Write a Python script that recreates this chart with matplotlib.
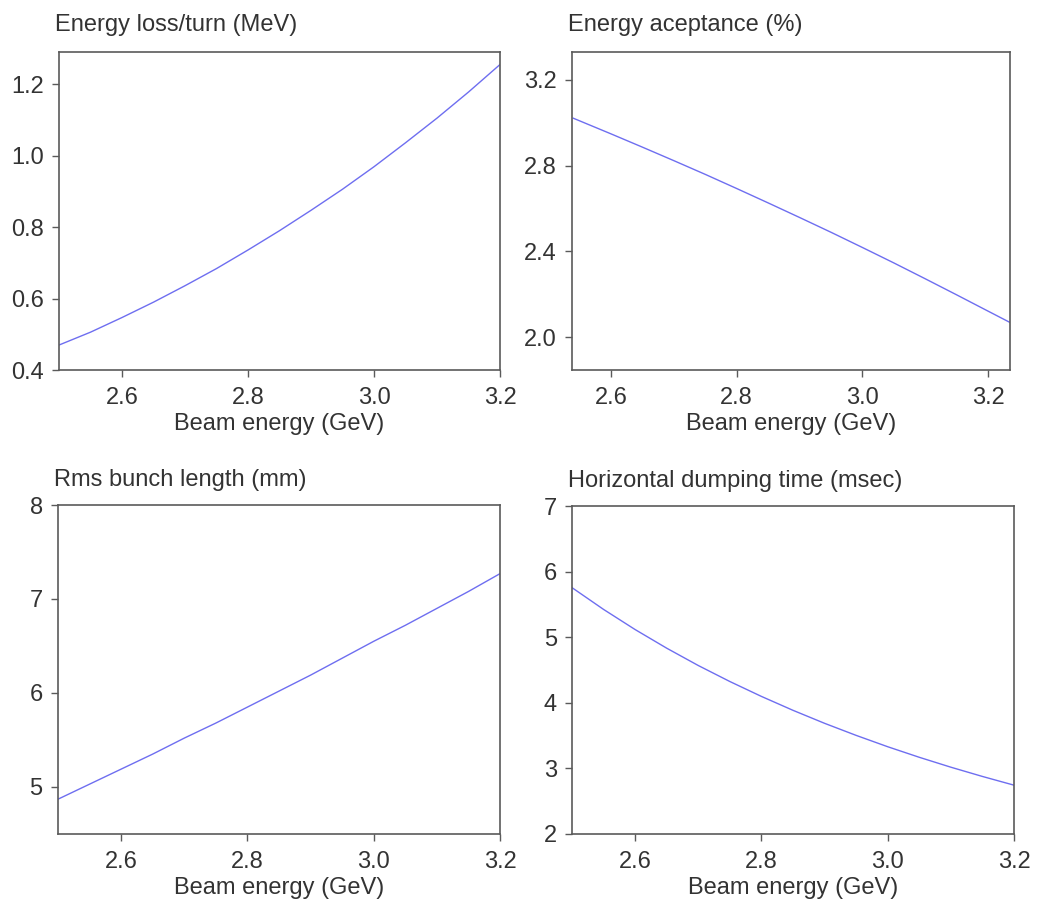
import matplotlib
matplotlib.use("Agg")
import matplotlib.pyplot as plt

plt.rcParams['font.family'] = ['Liberation Sans', 'DejaVu Sans']

# beam energy grid (GeV)
energy = [2.50, 2.55, 2.60, 2.65, 2.70, 2.75, 2.80, 2.85, 2.90, 2.95,
          3.00, 3.05, 3.10, 3.15, 3.20]
energy_acc = [2.54, 2.60, 2.65, 2.70, 2.75, 2.80, 2.85, 2.90, 2.95,
              3.00, 3.05, 3.10, 3.15, 3.20, 3.235]

# values
loss_per_turn = [0.470, 0.506, 0.547, 0.590, 0.636, 0.684, 0.736, 0.790,
                 0.847, 0.906, 0.969, 1.036, 1.105, 1.178, 1.255]
acceptance = [3.021, 2.948, 2.886, 2.823, 2.759, 2.693, 2.626, 2.558,
              2.489, 2.418, 2.346, 2.272, 2.197, 2.121, 2.068]
bunch_length = [4.87, 5.03, 5.19, 5.35, 5.52, 5.68, 5.85, 6.02, 6.19,
                6.37, 6.55, 6.72, 6.90, 7.08, 7.27]
damping_time = [5.755, 5.423, 5.116, 4.832, 4.568, 4.324, 4.097, 3.885,
                3.687, 3.503, 3.330, 3.169, 3.018, 2.877, 2.744]

x_ticks = [2.6, 2.8, 3.0, 3.2]

text_c = '#333333'
spine_c = '#5a5a5a'
line_c = '#6e6ef0'

fig = plt.figure(figsize=(10.45, 9.01), dpi=100)

# axes rectangles in figure fraction [left, bottom, width, height]
ax1 = fig.add_axes([0.0565, 0.5893, 0.4220, 0.3530])
ax2 = fig.add_axes([0.5474, 0.5893, 0.4191, 0.3530])
ax3 = fig.add_axes([0.0555, 0.0744, 0.4230, 0.3651])
ax4 = fig.add_axes([0.5474, 0.0744, 0.4229, 0.3640])

panels = [
    (ax1, energy, loss_per_turn, 'Energy loss/turn (MeV)', (2.5, 3.2), (0.4, 1.29),
     [0.4, 0.6, 0.8, 1.0, 1.2], '%.1f', 15),
    (ax2, energy_acc, acceptance, 'Energy aceptance (%)', (2.538, 3.235), (1.846, 3.33),
     [2.0, 2.4, 2.8, 3.2], '%.1f', 15),
    (ax3, energy, bunch_length, 'Rms bunch length (mm)', (2.5, 3.2), (4.5, 8.0),
     [5, 6, 7, 8], '%d', 14),
    (ax4, energy, damping_time, 'Horizontal dumping time (msec)', (2.5, 3.2), (2.0, 7.0),
     [2, 3, 4, 5, 6, 7], '%d', 14),
]

for ax, xs, ys, title, xlim, ylim, yticks, yfmt, pad in panels:
    ax.plot(xs, ys, color=line_c, linewidth=1.0)
    ax.set_xlim(*xlim)
    ax.set_ylim(*ylim)
    ax.set_xticks(x_ticks)
    ax.set_xticklabels(['%.1f' % t for t in x_ticks])
    ax.set_yticks(yticks)
    ax.set_yticklabels([yfmt % t for t in yticks])
    ax.tick_params(axis='both', direction='out', length=5, width=1,
                   color=spine_c, labelcolor=text_c, labelsize=17)
    ax.tick_params(axis='x', pad=7)
    ax.tick_params(axis='y', pad=6)
    for s in ax.spines.values():
        s.set_color(spine_c)
        s.set_linewidth(1.2)
    ax.set_xlabel('Beam energy (GeV)', fontsize=17, color=text_c, labelpad=3)
    ax.set_title(title, loc='left', fontsize=17, color=text_c, pad=pad, x=-0.01)

fig.savefig('out.png', dpi=100, facecolor='white')
